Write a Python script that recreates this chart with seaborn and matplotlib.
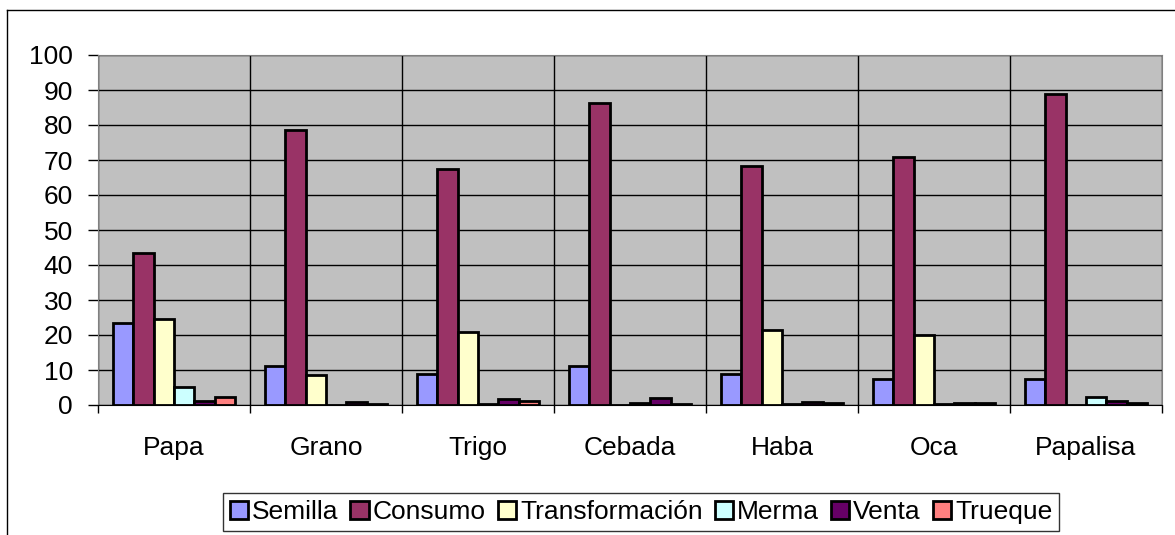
import pandas as pd
import matplotlib.pyplot as plt
import seaborn as sns
from matplotlib.lines import Line2D
from matplotlib.ticker import MultipleLocator, FixedLocator

cultivos = ['Papa', 'Grano', 'Trigo', 'Cebada', 'Haba', 'Oca', 'Papalisa']
usos = ['Semilla', 'Consumo', 'Transformación', 'Merma', 'Venta', 'Trueque']

semilla = [23.4, 11.2, 8.8, 11.1, 8.8, 7.4, 7.3]
consumo = [43.3, 78.6, 67.5, 86.4, 68.4, 71.0, 89.0]
transformacion = [24.5, 8.6, 20.9, 0.0, 21.3, 19.9, 0.0]
merma = [5.2, 0.1, 0.2, 0.5, 0.2, 0.2, 2.4]
venta = [1.2, 1.0, 1.6, 1.9, 1.0, 0.7, 1.2]
trueque = [2.2, 0.3, 1.1, 0.2, 0.5, 0.7, 0.6]

colores = ['#9999FF', '#993366', '#FFFFCC', '#CCFFFF', '#660066', '#FF8080']

valores = [semilla, consumo, transformacion, merma, venta, trueque]
rows = []
for uso, serie in zip(usos, valores):
    for c, v in zip(cultivos, serie):
        rows.append({'Cultivo': c, 'Uso': uso, 'Porcentaje': v})
df = pd.DataFrame(rows)

plt.rcParams['font.family'] = ['Liberation Sans', 'DejaVu Sans']

fig = plt.figure(figsize=(11.75, 5.35), dpi=100)
ax = fig.add_axes([98 / 1175, 1 - 405 / 535, 1064 / 1175, 350 / 535])

sns.barplot(data=df, x='Cultivo', y='Porcentaje', hue='Uso', order=cultivos,
            hue_order=usos, palette=dict(zip(usos, colores)), width=0.8,
            saturation=1, edgecolor='black', linewidth=2, errorbar=None, ax=ax)

ax.set_facecolor('#C0C0C0')
ax.set_xlim(-0.5, len(cultivos) - 0.5)
ax.set_ylim(0, 100)
ax.yaxis.set_major_locator(MultipleLocator(10))
ax.xaxis.set_minor_locator(FixedLocator([i + 0.5 for i in range(-1, len(cultivos))]))
ax.grid(axis='y', which='major', color='black', linewidth=1)
ax.grid(axis='x', which='minor', color='black', linewidth=1)
ax.set_axisbelow(True)
ax.set_xlabel('')
ax.set_ylabel('')
ax.tick_params(axis='y', labelsize=19, length=7, width=1, pad=11)
ax.tick_params(axis='x', which='major', labelsize=19, length=0, pad=22)
ax.tick_params(axis='x', which='minor', length=6, width=1)
for s in ['top', 'right', 'left']:
    ax.spines[s].set_color('#808080')
ax.spines['bottom'].set_color('black')

handles, labels = ax.get_legend_handles_labels()
ax.get_legend().remove()
fig.legend(handles, labels, loc='center', bbox_to_anchor=(641 / 1175, 1 - 512 / 535),
           ncol=6, fontsize=19, frameon=True, fancybox=False, edgecolor='black',
           handlelength=0.7, handleheight=0.7, handletextpad=0.15,
           columnspacing=0.45, borderpad=0.25, borderaxespad=0)

# outer chart border
fig.add_artist(Line2D([7 / 1175, 7 / 1175], [0, 1 - 10 / 535], color='black', linewidth=1))
fig.add_artist(Line2D([7 / 1175, 1], [1 - 10 / 535, 1 - 10 / 535], color='black', linewidth=1))

fig.savefig('out.png', dpi=100)
